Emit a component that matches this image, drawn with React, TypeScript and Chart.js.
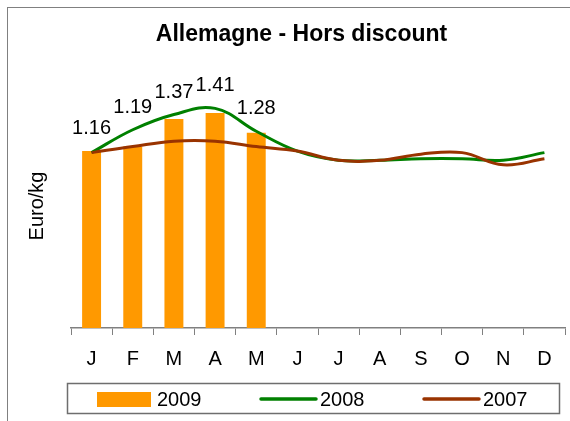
import React, { useEffect, useRef } from "react";
import { Chart, registerables } from "chart.js";

Chart.register(...registerables);

const months = ["J", "F", "M", "A", "M", "J", "J", "A", "S", "O", "N", "D"];
const labels2009 = "2009";
const labels2008 = "2008";
const labels2007 = "2007";
const values2009: (number | null)[] = [1.16, 1.19, 1.37, 1.41, 1.28, null, null, null, null, null, null, null];
const values2008 = [1.15, 1.3, 1.4, 1.44, 1.29, 1.16, 1.1, 1.1, 1.11, 1.11, 1.1, 1.15];
const values2007 = [1.15, 1.19, 1.225, 1.225, 1.19, 1.16, 1.1, 1.1, 1.14, 1.15, 1.07, 1.11];
const chartTitle = "Allemagne - Hors discount";
const yTitle = "Euro/kg";

const FONT = "'Liberation Sans', Arial, sans-serif";
const ORANGE = "#FF9900";
const GREEN = "#008000";
const BROWN = "#993300";
const GRAY = "#808080";

const framePlugin = {
  id: "frame",
  beforeDraw(chart: any) {
    const ctx = chart.ctx;
    ctx.save();
    ctx.fillStyle = "#ffffff";
    ctx.fillRect(0, 0, chart.width, chart.height);
    ctx.strokeStyle = GRAY;
    ctx.lineWidth = 1;
    ctx.strokeRect(7.5, 7.5, chart.width + 50, chart.height + 50);
    ctx.restore();
  },
};

const labelPlugin = {
  id: "barLabels",
  afterDatasetsDraw(chart: any) {
    const ctx = chart.ctx;
    const barMeta = chart.getDatasetMeta(0);
    const lineMeta = chart.getDatasetMeta(1);
    ctx.save();
    ctx.font = `20px ${FONT}`;
    ctx.fillStyle = "#000";
    ctx.textAlign = "center";
    ctx.textBaseline = "alphabetic";
    barMeta.data.forEach((el: any, i: number) => {
      const v = values2009[i];
      if (v == null) return;
      const ly = lineMeta.data[i] ? lineMeta.data[i].y : el.y;
      const top = Math.min(el.y, ly);
      ctx.fillText(v.toFixed(2), el.x, top - 17);
    });
    ctx.restore();
  },
};

const legendPlugin = {
  id: "customLegend",
  afterDraw(chart: any) {
    const ctx = chart.ctx;
    const area = chart.chartArea;
    const boxL = area.left - 4;
    const boxR = area.right - 6;
    const boxT = 383;
    const boxH = 30;
    ctx.save();
    ctx.strokeStyle = "#6e6e6e";
    ctx.lineWidth = 1.5;
    ctx.strokeRect(boxL + 0.5, boxT + 0.5, boxR - boxL, boxH);
    const items = chart.data.datasets;
    const startX = boxL + 30;
    const step = 163;
    const cy = boxT + 16;
    ctx.font = `20px ${FONT}`;
    ctx.textBaseline = "alphabetic";
    ctx.textAlign = "left";
    items.forEach((ds: any, i: number) => {
      const x = startX + i * step;
      if (ds.type === "bar") {
        ctx.fillStyle = ds.backgroundColor;
        ctx.fillRect(x, cy - 7, 54, 15);
      } else {
        ctx.strokeStyle = ds.borderColor;
        ctx.lineWidth = 3.5;
        ctx.lineCap = "round";
        ctx.beginPath();
        ctx.moveTo(x + 1, cy);
        ctx.lineTo(x + 56, cy);
        ctx.stroke();
      }
      ctx.fillStyle = "#000";
      ctx.fillText(ds.label, x + 60, cy + 7);
    });
    ctx.restore();
  },
};

export default function App() {
  const ref = useRef<HTMLCanvasElement | null>(null);
  useEffect(() => {
    if (!ref.current) return;
    const chart = new Chart(ref.current, {
      type: "bar",
      data: {
        labels: months,
        datasets: [
          {
            type: "bar",
            label: labels2009,
            data: values2009 as any,
            backgroundColor: ORANGE,
            borderWidth: 0,
            barPercentage: 0.46,
            categoryPercentage: 1,
            order: 3,
          },
          {
            type: "line",
            label: labels2008,
            data: values2008,
            borderColor: GREEN,
            backgroundColor: GREEN,
            borderWidth: 3,
            pointRadius: 0,
            tension: 0.4,
            order: 2,
          },
          {
            type: "line",
            label: labels2007,
            data: values2007,
            borderColor: BROWN,
            backgroundColor: BROWN,
            borderWidth: 3,
            pointRadius: 0,
            tension: 0.4,
            order: 1,
          },
        ] as any,
      },
      options: {
        responsive: false,
        animation: false,
        devicePixelRatio: 1,
        layout: { padding: { left: 38, right: 5, top: 0, bottom: 38 } },
        plugins: {
          legend: { display: false },
          tooltip: { enabled: false },
          title: {
            display: true,
            text: chartTitle,
            color: "#000",
            font: { family: FONT, size: 23, weight: "bold" },
            padding: { top: 20.5, bottom: 35.9 },
          },
        },
        scales: {
          x: {
            offset: true,
            grid: {
              display: true,
              offset: true,
              drawOnChartArea: false,
              drawTicks: true,
              tickLength: 7,
              color: GRAY,
            },
            border: { display: true, color: GRAY, width: 1.5 },
            ticks: {
              color: "#000",
              font: { family: FONT, size: 20, lineHeight: 2.1 },
              padding: 3,
              maxRotation: 0,
              autoSkip: false,
            },
          },
          y: {
            min: 0,
            max: 1.6,
            grid: { display: false },
            border: { display: false },
            ticks: { display: false },
            title: {
              display: true,
              text: yTitle,
              color: "#000",
              font: { family: FONT, size: 20 },
              padding: { top: -12.4, bottom: 13.4 },
            },
          },
        },
      },
      plugins: [framePlugin, labelPlugin, legendPlugin],
    });
    return () => chart.destroy();
  }, []);
  return (
    <canvas
      ref={ref}
      width={570}
      height={421}
      style={{ position: "fixed", left: 0, top: 0, width: 570, height: 421 }}
    />
  );
}
